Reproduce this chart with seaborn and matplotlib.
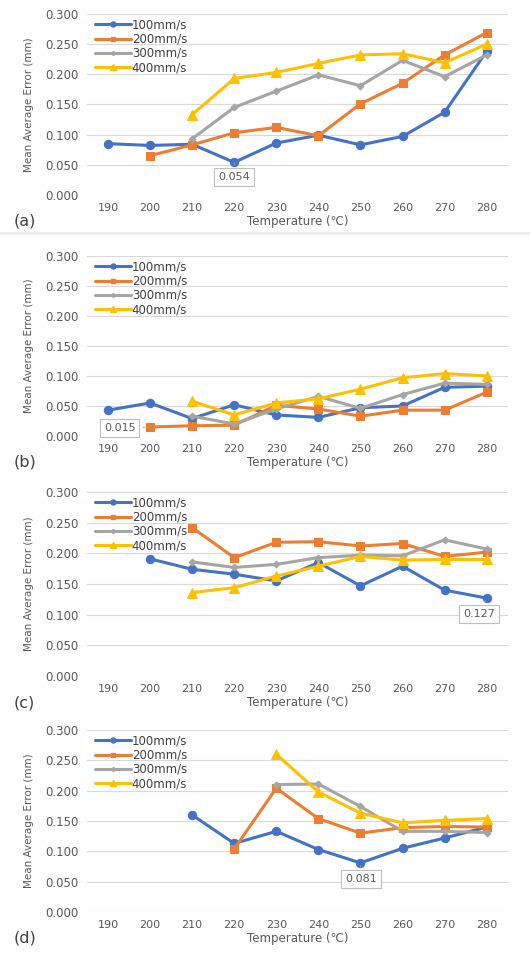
import numpy as np
import pandas as pd
import seaborn as sns
import matplotlib.pyplot as plt
from matplotlib.lines import Line2D

nan = np.nan
temps = [190, 200, 210, 220, 230, 240, 250, 260, 270, 280]
speeds = ['100mm/s', '200mm/s', '300mm/s', '400mm/s']

# (a)
a_100 = [0.085, 0.082, 0.084, 0.054, 0.086, 0.099, 0.083, 0.097, 0.137, 0.238]
a_200 = [nan, 0.065, 0.083, 0.103, 0.112, 0.098, 0.151, 0.185, 0.232, 0.269]
a_300 = [nan, nan, 0.093, 0.145, 0.172, 0.199, 0.181, 0.223, 0.196, 0.232]
a_400 = [nan, nan, 0.133, 0.193, 0.203, 0.218, 0.232, 0.234, 0.219, 0.250]
# (b)
b_100 = [0.043, 0.055, 0.029, 0.052, 0.035, 0.031, 0.047, 0.050, 0.081, 0.083]
b_200 = [nan, 0.015, 0.017, 0.018, 0.051, 0.045, 0.033, 0.043, 0.043, 0.073]
b_300 = [nan, nan, 0.033, 0.020, 0.045, 0.066, 0.046, 0.069, 0.088, 0.086]
b_400 = [nan, nan, 0.058, 0.035, 0.055, 0.062, 0.078, 0.097, 0.104, 0.100]
# (c)
c_100 = [nan, 0.191, 0.174, 0.166, 0.155, 0.185, 0.147, 0.179, 0.140, 0.127]
c_200 = [nan, nan, 0.242, 0.193, 0.218, 0.219, 0.212, 0.216, 0.195, 0.202]
c_300 = [nan, nan, 0.186, 0.177, 0.182, 0.193, 0.197, 0.196, 0.222, 0.207]
c_400 = [nan, nan, 0.136, 0.144, 0.163, 0.179, 0.195, 0.189, 0.190, 0.190]
# (d)
d_100 = [nan, nan, 0.160, 0.113, 0.133, 0.103, 0.081, 0.105, 0.122, 0.140]
d_200 = [nan, nan, nan, 0.104, 0.204, 0.154, 0.130, 0.139, 0.141, 0.140]
d_300 = [nan, nan, nan, nan, 0.210, 0.211, 0.174, 0.133, 0.133, 0.131]
d_400 = [nan, nan, nan, nan, 0.260, 0.198, 0.163, 0.147, 0.151, 0.154]

panels = [
    ('(a)', [a_100, a_200, a_300, a_400], (220, 0.054), '0.054', (220, 0.030)),
    ('(b)', [b_100, b_200, b_300, b_400], (200, 0.015), '0.015', (192.8, 0.013)),
    ('(c)', [c_100, c_200, c_300, c_400], (280, 0.127), '0.127', (278.1, 0.101)),
    ('(d)', [d_100, d_200, d_300, d_400], (250, 0.081), '0.081', (250.1, 0.054)),
]

colors = ['#4472C4', '#ED7D31', '#A5A5A5', '#FFC000']
markers = ['o', 's', 'D', '^']
msizes = [6, 6, 3.5, 7]

sns.set_style('white')
plt.rcParams['font.family'] = ['DejaVu Sans']

fig = plt.figure(figsize=(5.3, 9.58), dpi=100)
boxes = [(0.7965, 0.189), (0.5449, 0.188), (0.2944, 0.192), (0.0480, 0.190)]
txt = '#595959'

for (label, series, pt, ann, annpos), (bot, h) in zip(panels, boxes):
    ax = fig.add_axes([0.164, bot, 0.794, h])
    rows = []
    for sp, vals in zip(speeds, series):
        for t, v in zip(temps, vals):
            rows.append({'Temperature': t, 'Error': v, 'Speed': sp})
    df = pd.DataFrame(rows).dropna()
    for sp, c, m, ms in zip(speeds, colors, markers, msizes):
        sns.lineplot(data=df[df['Speed'] == sp], x='Temperature', y='Error',
                     color=c, marker=m, markersize=ms, markeredgecolor=c,
                     linewidth=2.2, ax=ax, legend=False)
    ax.set_xlim(185, 285)
    ax.set_ylim(0, 0.3)
    ax.set_xticks(temps)
    ax.set_yticks(np.arange(0, 0.301, 0.05))
    ax.set_yticklabels([f'{v:.3f}' for v in np.arange(0, 0.301, 0.05)])
    ax.tick_params(axis='both', length=0, labelsize=8, colors=txt, pad=6)
    ax.tick_params(axis='y', labelsize=8.5)
    ax.yaxis.grid(True, color='#D9D9D9', linewidth=0.8)
    ax.set_axisbelow(True)
    for s in ax.spines.values():
        s.set_visible(False)
    ax.set_xlabel('Temperature (℃)', fontsize=8.5, color=txt, labelpad=1)
    ax.set_ylabel('Mean Average Error (mm)', fontsize=7.5, color=txt, labelpad=8)
    ax.text(-0.175, -0.17, label, transform=ax.transAxes, fontsize=11.5, color='#404040')

    handles = [Line2D([], [], color=c, marker=m, markersize=ms * 0.6, linewidth=2.2)
               for c, m, ms in zip(colors, markers, msizes)]
    leg = ax.legend(handles, speeds, loc='upper left', bbox_to_anchor=(0.0, 1.02),
                    frameon=False, fontsize=8.5, handlelength=3.0, handletextpad=0.1,
                    labelspacing=0.1, borderaxespad=0.3)
    for t in leg.get_texts():
        t.set_color('#404040')

    ax.annotate(ann, xy=pt, xytext=annpos, fontsize=8, color=txt,
                ha='center', va='center',
                bbox=dict(boxstyle='square,pad=0.35', fc='white', ec='#BFBFBF', lw=0.8),
                arrowprops=dict(arrowstyle='-', color='#A6A6A6', lw=0.6))

# thin grey strip under the first panel
fig.add_artist(Line2D([0, 1], [1 - 233 / 958] * 2, color='#EEEEEE', linewidth=2,
                      transform=fig.transFigure))

fig.savefig('out.png', dpi=100)
